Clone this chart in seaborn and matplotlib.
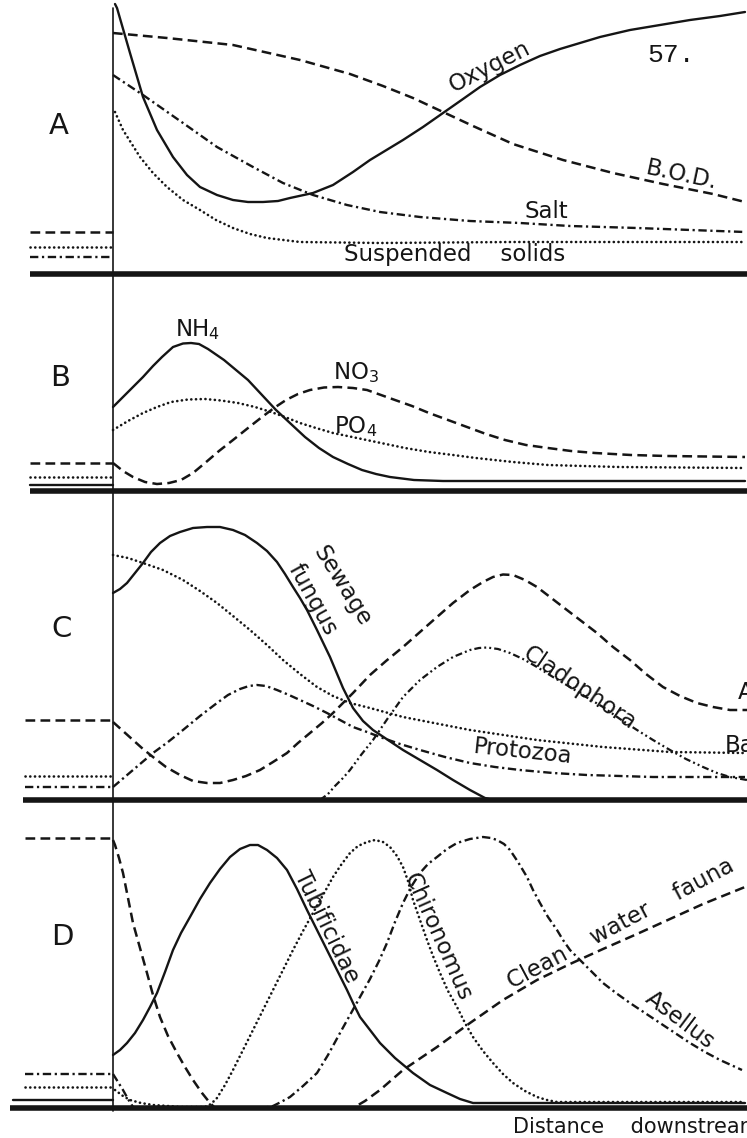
import matplotlib
matplotlib.use("Agg")
import matplotlib.pyplot as plt
import pandas as pd
import seaborn as sns

sns.set_theme(style="white")
plt.rcParams['font.family'] = ['DejaVu Sans']
plt.rcParams['lines.scale_dashes'] = False

# ---------------- data (distance downstream from outfall, relative level) ----------------
# Panel A
OXY_X = [2, 4, 17, 30, 44, 60, 74, 87, 104, 120, 135, 150, 165, 177, 200, 220, 240, 257, 290, 310, 330, 350, 367, 387, 407, 427, 447, 467, 487, 517, 547, 577, 607, 632]
OXY_Y = [270, 266, 221, 177, 144, 117, 99, 87, 79, 74, 72, 72, 73, 76, 81, 89, 102, 114, 134, 147, 161, 175, 187, 199, 209, 218, 225, 231, 237, 244, 249, 254, 258, 262]
BOD_X = [0, 54, 120, 187, 237, 270, 300, 330, 360, 400, 450, 500, 550, 600, 632]
BOD_Y = [241, 236, 229, 214, 200, 188, 176, 162, 148, 130, 114, 101, 90, 80, 72]
SALT_X = [0, 30, 70, 104, 140, 170, 200, 234, 267, 307, 357, 407, 457, 524, 632]
SALT_Y = [199, 179, 151, 127, 107, 91, 79, 69, 62, 57, 53, 51, 48, 46, 42]
SS_X = [2, 10, 27, 40, 54, 70, 87, 103, 120, 137, 154, 187, 267, 400, 520, 632]
SS_Y = [162, 144, 117, 101, 87, 74, 64, 54, 46, 40, 36, 32, 31, 32, 32, 32]
A_UPSTREAM = {"BOD": 42, "Suspended solids": 27, "Salt": 17}

# Panel B
NH4_X = [0, 10, 20, 30, 40, 49, 60, 70, 78, 86, 95, 111, 123, 135, 149, 163, 178, 192, 206, 220, 235, 249, 263, 277, 301, 330, 632]
NH4_Y = [84, 94, 104, 114, 125, 134, 144, 147.5, 148, 147, 142, 131, 121, 111, 96, 81, 67, 54, 43, 34, 27, 21, 17, 14, 11, 10, 10]
NO3_X = [0, 10, 20, 32, 44, 56, 68, 80, 92, 106, 120, 135, 149, 161, 173, 185, 197, 211, 225, 240, 254, 268, 282, 299, 316, 335, 354, 373, 392, 413, 435, 458, 482, 518, 554, 632]
NO3_Y = [28, 20, 14, 9, 7, 8, 11, 18, 28, 40, 51, 63, 74, 83, 91, 97, 101, 103.5, 104, 103, 101, 96, 91, 85, 78, 71, 64, 57, 51, 46, 43, 40, 38, 36, 35, 34]
PO4_X = [0, 15, 30, 44, 58, 75, 92, 108, 125, 142, 158, 172, 187, 203, 220, 244, 268, 292, 316, 340, 363, 400, 435, 470, 506, 632]
PO4_Y = [61, 70, 78, 84, 89, 91.5, 92, 90.5, 88, 84, 79, 74, 68, 63, 58, 53, 48, 43, 39, 36, 33, 29, 26, 25, 24, 23]
B_UPSTREAM = {"NO3": 28, "PO4": 14, "NH4": 6}

# Panel C
FUNGUS_X = [0, 7, 14, 22, 30, 38, 47, 57, 67, 80, 94, 107, 120, 132, 144, 154, 164, 172, 180, 187, 194, 204, 217, 230, 240, 250, 260, 272, 290, 307, 324, 340, 357, 372, 380]
FUNGUS_Y = [207, 211, 217, 227, 237, 248, 257, 264, 268, 272, 273, 273, 270, 265, 257, 249, 238, 226, 213, 202, 190, 170, 143, 112, 92, 79, 70, 62, 50, 40, 30, 20, 10, 2, 0]
BACT_X = [0, 15, 30, 50, 70, 87, 104, 120, 137, 154, 170, 187, 204, 220, 237, 257, 290, 357, 424, 490, 557, 632]
BACT_Y = [245, 242, 237, 230, 220, 209, 197, 184, 170, 155, 140, 126, 113, 104, 97, 92, 83, 70, 60, 53, 48, 47]
PROTO_X = [0, 20, 40, 55, 70, 87, 104, 115, 127, 136, 144, 153, 164, 176, 187, 200, 214, 227, 240, 254, 267, 287, 307, 332, 357, 382, 407, 440, 474, 540, 632]
PROTO_Y = [13, 30, 47, 58, 70, 84, 97, 105, 111, 114, 115, 114, 110, 105, 100, 94, 87, 80, 73, 68, 63, 56, 50, 43, 37, 33, 30, 27, 25, 23, 23]
ALGAE_X = [0, 10, 20, 30, 40, 53, 67, 80, 94, 107, 120, 133, 147, 160, 174, 185, 197, 209, 220, 230, 240, 257, 273, 290, 307, 324, 340, 357, 370, 380, 390, 400, 412, 424, 437, 450, 467, 484, 500, 517, 533, 550, 567, 584, 600, 617, 634]
ALGAE_Y = [78, 69, 60, 51, 43, 33, 25, 19, 17, 17, 20, 24, 30, 38, 47, 57, 67, 77, 87, 97, 107, 125, 139, 153, 168, 183, 197, 210, 218, 223, 225.5, 225, 220, 213, 203, 193, 180, 167, 153, 140, 126, 113, 104, 97, 93, 90, 90]
CLAD_X = [207, 215, 222, 230, 237, 248, 260, 275, 290, 307, 324, 340, 357, 366, 374, 385, 397, 410, 424, 440, 457, 473, 490, 507, 524, 540, 557, 573, 590, 604, 617, 634]
CLAD_Y = [0, 6, 14, 22, 30, 45, 60, 82, 103, 120, 133, 143, 150, 152, 152.5, 151, 147, 141, 133, 123, 113, 103, 93, 81, 70, 60, 50, 41, 33, 27, 23, 20]
C_UPSTREAM = {"Algae": 80, "Bacteria": 24, "Protozoa": 13}

# Panel D
CLEAN_X = [0, 2, 6, 10, 15, 20, 27, 34, 40, 47, 55, 64, 72, 80, 89, 97, 102, 240, 252, 267, 290, 324, 357, 390, 424, 457, 490, 524, 557, 590, 632]
CLEAN_Y = [268, 263, 250, 235, 210, 185, 160, 135, 113, 91, 72, 55, 41, 28, 15, 5, 0, 0, 7, 18, 38, 61, 85, 108, 128, 144, 159, 174, 189, 204, 221]
TUBI_X = [0, 7, 14, 22, 30, 37, 44, 52, 60, 68, 77, 87, 97, 107, 117, 127, 137, 145, 154, 164, 174, 184, 194, 204, 214, 224, 234, 241, 247, 257, 267, 282, 300, 317, 334, 347, 360, 632]
TUBI_Y = [53, 58, 65, 75, 88, 101, 115, 136, 158, 175, 191, 209, 225, 239, 251, 259, 263, 263, 258, 250, 238, 219, 198, 178, 158, 138, 118, 103, 91, 78, 65, 50, 35, 23, 15, 9, 5, 5]
CHIRO_X = [2, 10, 17, 28, 40, 55, 67, 80, 92, 98, 104, 112, 120, 130, 140, 150, 160, 170, 180, 190, 200, 210, 220, 228, 237, 245, 254, 262, 270, 277, 284, 290, 295, 300, 307, 314, 320, 327, 335, 344, 352, 360, 370, 380, 390, 400, 412, 424, 434, 444, 632]
CHIRO_Y = [18, 12, 8, 5, 3, 2, 1, 1, 1, 4, 10, 23, 38, 58, 78, 98, 118, 138, 158, 177, 195, 213, 231, 243, 255, 262, 266, 268, 266, 261, 252, 241, 227, 208, 188, 168, 152, 135, 117, 101, 85, 71, 57, 45, 34, 25, 17, 11, 8, 6, 6]
ASEL_X = [0, 5, 10, 15, 20, 25, 150, 160, 168, 177, 190, 204, 215, 227, 237, 247, 257, 266, 274, 282, 290, 298, 307, 315, 324, 334, 344, 357, 370, 378, 384, 391, 397, 405, 414, 420, 427, 435, 444, 450, 457, 464, 470, 480, 490, 503, 517, 532, 547, 562, 577, 592, 607, 618, 629]
ASEL_Y = [34, 26, 18, 9, 1, 0, 0, 2, 6, 11, 22, 35, 53, 75, 93, 111, 129, 147, 165, 186, 205, 221, 235, 244, 251, 259, 265, 269, 271, 270, 268, 264, 258, 246, 231, 218, 205, 191, 178, 168, 158, 151, 145, 135, 125, 115, 105, 95, 85, 75, 65, 56, 48, 43, 38]
D_UPSTREAM = {"Clean water fauna": 270, "Asellus": 34, "Chironomus": 21, "Tubificidae": 8}

# ---------------- styling ----------------
INK = "#151515"
STY = {
    "solid": dict(linestyle="-", linewidth=1.7),
    "dash": dict(linestyle=(0, (7.0, 3.8)), linewidth=1.8),
    "dot": dict(linestyle=(0, (0.1, 3.3)), linewidth=1.9, dash_capstyle="round"),
    "dashdot": dict(linestyle=(0, (6.0, 2.6, 1.6, 2.6)), linewidth=1.7),
    "dashdotdot": dict(linestyle=(0, (5.0, 2.2, 1.4, 2.2, 1.4, 2.2)), linewidth=1.6),
}
FS = 16.5
XMIN, XMAX = -113, 634

fig = plt.figure(figsize=(7.47, 11.38), dpi=100)
FIG_H = 1138.0


def make_axes(top_px, bot_px, base_px):
    ax = fig.add_axes([0, 1 - bot_px / FIG_H, 1, (bot_px - top_px) / FIG_H])
    ax.set_xlim(XMIN, XMAX)
    ax.set_ylim(base_px - bot_px, base_px - top_px)
    ax.set_axis_off()
    return ax


def curve(ax, x, y, style):
    df = pd.DataFrame({"distance": x, "level": y})
    sns.lineplot(data=df, x="distance", y="level", ax=ax, color=INK,
                 estimator=None, sort=False, legend=False, **STY[style])


def stub(ax, level, style, x0=-83):
    curve(ax, [x0, 0], [level, level], style)


def frame(ax, x0, ymax_frac=1.0, ymin_frac=0.0):
    ax.hlines(0, x0, XMAX, color=INK, linewidth=4.0, zorder=5)
    ax.axvline(0, ymin=ymin_frac, ymax=ymax_frac, color=INK, linewidth=1.2, zorder=4)


def label(ax, x, y, s, rot=0, ha="center", va="center", size=FS, **kw):
    ax.text(x, y, s, rotation=rot, rotation_mode="anchor", ha=ha, va=va,
            fontsize=size, color=INK, **kw)


# ---------------- Panel A ----------------
axA = make_axes(0, 280, 274)
frame(axA, -83, ymax_frac=(266 + 6) / 280)
curve(axA, OXY_X, OXY_Y, "solid")
curve(axA, BOD_X, BOD_Y, "dash")
curve(axA, SALT_X, SALT_Y, "dashdot")
curve(axA, SS_X, SS_Y, "dot")
stub(axA, A_UPSTREAM["BOD"], "dash")
stub(axA, A_UPSTREAM["Suspended solids"], "dot")
stub(axA, A_UPSTREAM["Salt"], "dashdot")
label(axA, -54, 148, "A", size=21)
label(axA, 377, 207, "Oxygen", rot=27)
label(axA, 569, 99, "B.O.D.", rot=-12)
label(axA, 433, 62, "Salt")
label(axA, 342, 19, "Suspended    solids")
label(axA, 558, 219, "57.", size=19, family=["Liberation Mono"])

# ---------------- Panel B ----------------
axB = make_axes(280, 497, 491)
frame(axB, -83)
curve(axB, NH4_X, NH4_Y, "solid")
curve(axB, NO3_X, NO3_Y, "dash")
curve(axB, PO4_X, PO4_Y, "dot")
stub(axB, B_UPSTREAM["NO3"], "dash")
stub(axB, B_UPSTREAM["PO4"], "dot")
stub(axB, B_UPSTREAM["NH4"], "solid")
label(axB, -53, 113, "B", size=21)
label(axB, 84, 161, "NH$_4$")
label(axB, 243, 118, "NO$_3$")
label(axB, 243, 64, "PO$_4$")

# ---------------- Panel C ----------------
axC = make_axes(497, 806, 800)
frame(axC, -90)
curve(axC, FUNGUS_X, FUNGUS_Y, "solid")
curve(axC, BACT_X, BACT_Y, "dot")
curve(axC, PROTO_X, PROTO_Y, "dashdot")
curve(axC, ALGAE_X, ALGAE_Y, "dash")
curve(axC, CLAD_X, CLAD_Y, "dashdotdot")
stub(axC, C_UPSTREAM["Algae"], "dash", x0=-88)
stub(axC, C_UPSTREAM["Bacteria"], "dot", x0=-88)
stub(axC, C_UPSTREAM["Protozoa"], "dashdot", x0=-88)
label(axC, -51, 171, "C", size=21)
label(axC, 229, 214, "Sewage", rot=-58)
label(axC, 200, 200, "fungus", rot=-61)
label(axC, 467, 112, "Cladophora", rot=-34)
label(axC, 410, 48, "Protozoa", rot=-6)
label(axC, 625, 107, "Algae", ha="left")
label(axC, 612, 54, "Bacteria", ha="left")

# ---------------- Panel D ----------------
axD = make_axes(806, 1138, 1108)
frame(axD, -103, ymin_frac=(30 - 3) / 332)
curve(axD, CLEAN_X, CLEAN_Y, "dash")
curve(axD, TUBI_X, TUBI_Y, "solid")
curve(axD, CHIRO_X, CHIRO_Y, "dot")
curve(axD, ASEL_X, ASEL_Y, "dashdot")
stub(axD, D_UPSTREAM["Clean water fauna"], "dash", x0=-88)
stub(axD, D_UPSTREAM["Asellus"], "dashdot", x0=-88)
stub(axD, D_UPSTREAM["Chironomus"], "dot", x0=-88)
stub(axD, D_UPSTREAM["Tubificidae"], "solid", x0=-100)
label(axD, -51, 171, "D", size=21)
label(axD, 214, 181, "Tubificidae", rot=-64)
label(axD, 325, 171, "Chironomus", rot=-66)
label(axD, 399, 119, "Clean    water    fauna", rot=28, ha="left", va="baseline")
label(axD, 567, 88, "Asellus", rot=-37)
label(axD, 400, -19, "Distance    downstream", ha="left", size=15)

fig.savefig("out.png", dpi=100, facecolor="white")
